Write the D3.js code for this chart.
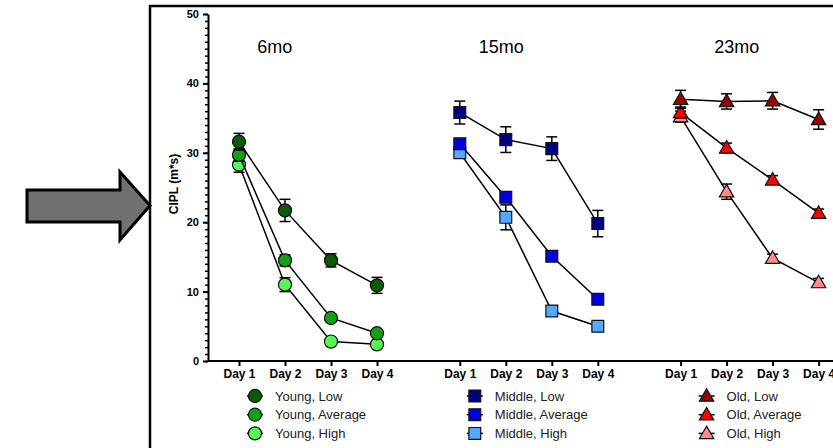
<!DOCTYPE html>
<html lang="en">
<head>
    <meta charset="UTF-8">
    <title>CIPL by age</title>
    <script src="https://d3js.org/d3.v7.min.js"></script>
    <style>
        body { margin: 0; background: #ffffff; overflow: hidden; }
        svg { display: block; font-family: "Liberation Sans", Arial, sans-serif; }
        .tick text { font-weight: bold; fill: #000; }
        .y-axis .tick text { font-size: 11px; }
        .x-axis .tick text { font-size: 12px; }
    </style>
</head>
<body>
<div id="chart"></div>
<script>
    // chart data
    const days = ["Day 1", "Day 2", "Day 3", "Day 4"];
    const panels = ["6mo", "15mo", "23mo"];
    const groups = ["Young", "Middle", "Old"];
    const levels = ["Low", "Average", "High"];
    const yTicks = [0, 10, 20, 30, 40, 50];

    const youngLow = [31.6, 21.7, 14.5, 10.9];
    const youngLowErr = [1.2, 1.6, 0.95, 1.15];
    const youngAvg = [29.7, 14.5, 6.2, 4.0];
    const youngAvgErr = [0.9, 0.8, 0.4, 0.4];
    const youngHigh = [28.3, 11.0, 2.8, 2.4];
    const youngHighErr = [1.1, 1.0, 0.3, 0.3];

    const middleLow = [35.8, 31.9, 30.6, 19.8];
    const middleLowErr = [1.65, 1.85, 1.7, 1.9];
    const middleAvg = [31.3, 23.6, 15.1, 8.9];
    const middleAvgErr = [0.7, 0.6, 0.4, 0.4];
    const middleHigh = [30.0, 20.7, 7.2, 5.0];
    const middleHighErr = [0.5, 1.8, 0.4, 0.3];

    const oldLow = [37.7, 37.4, 37.5, 34.8];
    const oldLowErr = [1.3, 1.1, 1.2, 1.4];
    const oldAvg = [35.8, 30.7, 26.1, 21.3];
    const oldAvgErr = [0.8, 0.7, 0.6, 0.6];
    const oldHigh = [35.2, 24.4, 14.8, 11.3];
    const oldHighErr = [0.8, 1.1, 0.6, 0.6];

    const colors = [
        ["#0a5a0a", "#14a014", "#58f558"],
        ["#000080", "#0000e0", "#55a8ff"],
        ["#990000", "#ff0000", "#ff8a8a"]
    ];

    const series = [
        [[youngLow, youngLowErr], [youngAvg, youngAvgErr], [youngHigh, youngHighErr]],
        [[middleLow, middleLowErr], [middleAvg, middleAvgErr], [middleHigh, middleHighErr]],
        [[oldLow, oldLowErr], [oldAvg, oldAvgErr], [oldHigh, oldHighErr]]
    ];

    const width = 833, height = 448;
    const groupGap = 4.8;          // slots between first days of neighbouring panels
    const titleSlot = [0.78, 0.9, 1.22];
    const legendOffset = [16, 15, 26];

    const svg = d3.select("#chart").append("svg")
        .attr("width", width)
        .attr("height", height);

    // outer frame and pointer arrow
    svg.append("path")
        .attr("d", "M150,460 L150,6 L845,6")
        .attr("fill", "none")
        .attr("stroke", "#000")
        .attr("stroke-width", 2.5);

    svg.append("polygon")
        .attr("points", "27,190 120,190 120,172 150,205.5 120,240 120,222 27,222")
        .attr("fill", "#737070")
        .attr("stroke", "#000")
        .attr("stroke-width", 3)
        .attr("stroke-linejoin", "miter");

    const x = d3.scaleLinear().domain([0, 1]).range([239, 285]);
    const y = d3.scaleLinear().domain([0, 50]).range([361, 14]);
    const axisX = 208;
    const pos = (g, d) => x(g * groupGap + d);

    // y axis: minor ticks then major
    svg.append("g")
        .attr("transform", `translate(${axisX},0)`)
        .call(d3.axisLeft(y).tickValues(d3.range(0, 51, 1)).tickSize(3).tickFormat(""))
        .call(g => g.select(".domain").remove())
        .call(g => g.selectAll("line").attr("stroke-width", 1.5));

    svg.append("g")
        .attr("class", "y-axis")
        .attr("transform", `translate(${axisX},0)`)
        .call(d3.axisLeft(y).tickValues(yTicks).tickSize(5).tickPadding(4).tickSizeOuter(0))
        .call(g => g.select(".domain").attr("stroke-width", 2))
        .call(g => g.selectAll("line").attr("stroke-width", 2));

    svg.append("text")
        .attr("transform", `translate(178,${184}) rotate(-90)`)
        .attr("text-anchor", "middle")
        .attr("font-size", 12)
        .attr("font-weight", "bold")
        .text("CIPL (m*s)");

    // x axis
    svg.append("line")
        .attr("x1", axisX).attr("x2", width + 10)
        .attr("y1", y(0)).attr("y2", y(0))
        .attr("stroke", "#000").attr("stroke-width", 2);

    const tickVals = [];
    panels.forEach((p, g) => days.forEach((d, i) => tickVals.push(g * groupGap + i)));

    svg.append("g")
        .attr("class", "x-axis")
        .attr("transform", `translate(0,${y(0)})`)
        .call(d3.axisBottom(x).tickValues(tickVals).tickSize(5).tickPadding(3)
            .tickFormat(v => days[Math.round(v - Math.floor(v / groupGap + 0.01) * groupGap)]))
        .call(g => g.select(".domain").remove())
        .call(g => g.selectAll("line").attr("stroke-width", 2));

    const symbolTypes = [d3.symbolCircle, d3.symbolSquare, d3.symbolTriangle];
    const symbolSizes = [135, 140, 90];
    const line = d3.line();

    series.forEach((grp, g) => {
        // panel title
        svg.append("text")
            .attr("x", pos(g, titleSlot[g]))
            .attr("y", 53)
            .attr("text-anchor", "middle")
            .attr("font-size", 18)
            .text(panels[g]);

        const sym = d3.symbol().type(symbolTypes[g]).size(symbolSizes[g]);

        // draw in reverse so the Low series sits on top
        grp.slice().reverse().forEach(([vals, errs], ri) => {
            const k = grp.length - 1 - ri;
            const pts = vals.map((v, i) => [pos(g, i), y(v)]);

            svg.append("path")
                .attr("d", line(pts))
                .attr("fill", "none")
                .attr("stroke", "#000")
                .attr("stroke-width", 1.5);

            const eb = svg.append("g").attr("stroke", "#000").attr("stroke-width", 1.5);
            vals.forEach((v, i) => {
                const cx = pos(g, i);
                eb.append("line").attr("x1", cx).attr("x2", cx)
                    .attr("y1", y(v - errs[i])).attr("y2", y(v + errs[i]));
                [v - errs[i], v + errs[i]].forEach(e => {
                    eb.append("line").attr("x1", cx - 5.5).attr("x2", cx + 5.5)
                        .attr("y1", y(e)).attr("y2", y(e));
                });
            });

            svg.append("g").selectAll("path")
                .data(vals)
                .enter()
                .append("path")
                .attr("d", sym)
                .attr("transform", (v, i) => `translate(${pos(g, i)},${y(v) + (g === 2 ? 1 : 0)})`)
                .attr("fill", colors[g][k])
                .attr("stroke", "#111")
                .attr("stroke-width", 1.2);
        });

        // legend
        levels.forEach((lv, k) => {
            const lx = pos(g, 0) + legendOffset[g];
            const ly = 396 + k * 18.7;
            svg.append("line")
                .attr("x1", lx - 8).attr("x2", lx + 8)
                .attr("y1", ly).attr("y2", ly)
                .attr("stroke", "#000").attr("stroke-width", 1.5);
            svg.append("path")
                .attr("d", sym)
                .attr("transform", `translate(${lx},${ly + (g === 2 ? 1 : 0)})`)
                .attr("fill", colors[g][k])
                .attr("stroke", "#111")
                .attr("stroke-width", 1.2);
            svg.append("text")
                .attr("x", lx + 20)
                .attr("y", ly)
                .attr("dy", "0.36em")
                .attr("font-size", 13)
                .attr("fill", "#222")
                .text(`${groups[g]}, ${lv}`);
        });
    });
</script>
</body>
</html>
